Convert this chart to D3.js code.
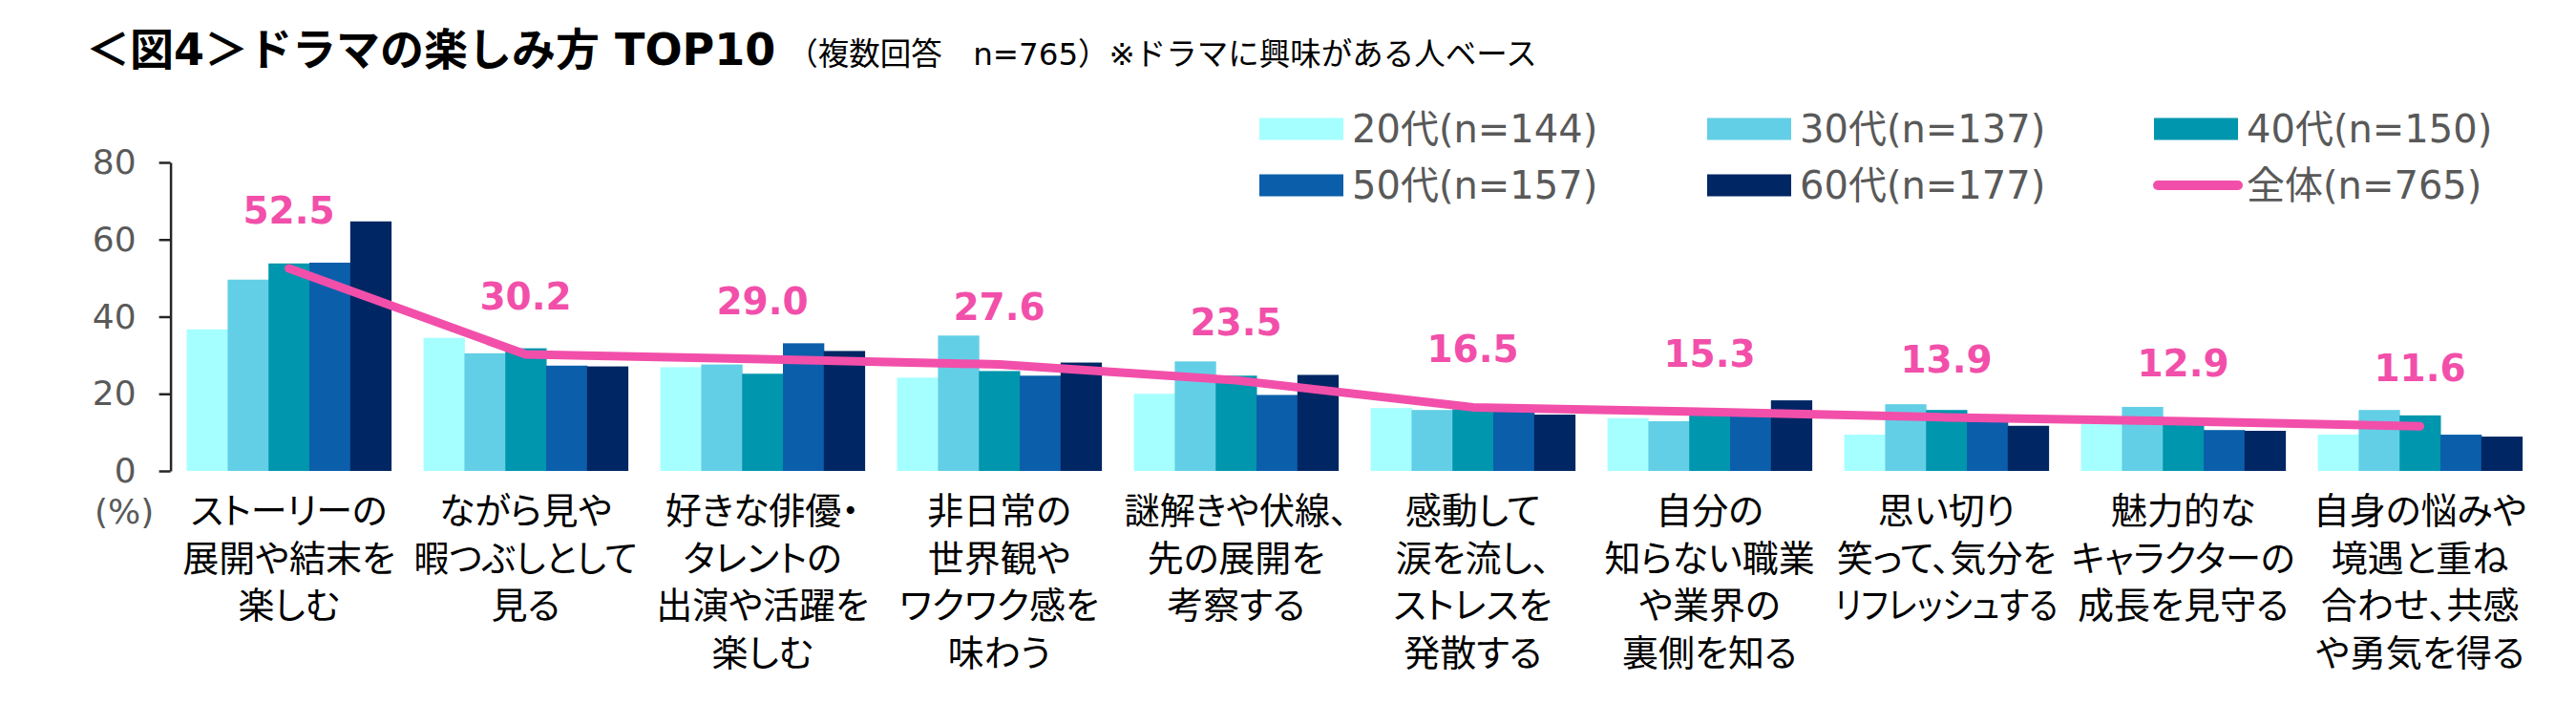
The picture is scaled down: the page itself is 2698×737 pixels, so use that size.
<!DOCTYPE html>
<html>
<head>
<meta charset="utf-8">
<script src="https://cdn.jsdelivr.net/npm/d3@7"></script>
<style>
  html, body { margin: 0; padding: 0; background: #fff; }
  svg text { font-family: "DejaVu Sans", "Noto Sans CJK JP", sans-serif; }
  .jp { font-family: "Noto Sans CJK JP", sans-serif; font-feature-settings: "palt"; }
</style>
</head>
<body>
<svg id="chart" width="2698" height="737"></svg>
<script>
// data
var categories = [
  ["ストーリーの", "展開や結末を", "楽しむ"],
  ["ながら見や", "暇つぶしとして", "見る"],
  ["好きな俳優・", "タレントの", "出演や活躍を", "楽しむ"],
  ["非日常の", "世界観や", "ワクワク感を", "味わう"],
  ["謎解きや伏線、", "先の展開を", "考察する"],
  ["感動して", "涙を流し、", "ストレスを", "発散する"],
  ["自分の", "知らない職業", "や業界の", "裏側を知る"],
  ["思い切り", "笑って、気分を", "リフレッシュする"],
  ["魅力的な", "キャラクターの", "成長を見守る"],
  ["自身の悩みや", "境遇と重ね", "合わせ、共感", "や勇気を得る"]
];
var seriesNames = ["20代(n=144)", "30代(n=137)", "40代(n=150)", "50代(n=157)", "60代(n=177)"];
var seriesColors = ["#A6FFFF", "#63CFE6", "#0096AD", "#0B5FAA", "#002663"];
var values20 = [36.7, 34.5, 26.9, 24.2, 20.0, 16.3, 13.7, 9.4, 12.2, 9.4];
var values30 = [49.6, 30.5, 27.6, 35.1, 28.4, 15.8, 12.9, 17.3, 16.6, 15.8];
var values40 = [53.8, 31.8, 25.2, 25.9, 24.7, 16.0, 14.8, 15.8, 12.0, 14.4];
var values50 = [54.0, 27.3, 33.1, 24.7, 19.7, 15.5, 15.0, 13.0, 10.6, 9.4];
var values60 = [64.7, 27.1, 31.1, 28.1, 24.9, 14.6, 18.3, 11.7, 10.4, 8.9];
var totalName = "全体(n=765)";
var totalValues = [52.5, 30.2, 29.0, 27.6, 23.5, 16.5, 15.3, 13.9, 12.9, 11.6];
var yTicks = [0, 20, 40, 60, 80];

var PINK = "#F24FAA";
var MAX_LABEL_W = 234;
var series = [values20, values30, values40, values50, values60];

var svg = d3.select("#chart");

// title
var title = svg.append("text")
  .attr("x", 90)
  .attr("y", 68);
title.append("tspan")
  .attr("font-size", 46)
  .attr("font-weight", "bold")
  .attr("fill", "#000")
  .text("＜図4＞ドラマの楽しみ方 TOP10");
title.append("tspan")
  .attr("dx", 12)
  .attr("font-size", 32.5)
  .attr("fill", "#000")
  .text("（複数回答　n=765）※ドラマに興味がある人ベース");

// scales
var idx = d3.range(categories.length);
var x0 = d3.scaleBand()
  .domain(idx)
  .range([178.6, 2658.6])
  .paddingInner(0.137)
  .paddingOuter(0.0685);
var x1 = d3.scaleBand()
  .domain(d3.range(series.length))
  .range([0, x0.bandwidth()]);
var y = d3.scaleLinear().domain([0, 80]).range([493, 170]);

// bars
var groups = svg.append("g").selectAll("g")
  .data(idx)
  .join("g")
  .attr("transform", function(d) { return "translate(" + x0(d) + ",0)"; });

groups.selectAll("rect")
  .data(function(d) { return series.map(function(s, k) { return {k: k, v: s[d]}; }); })
  .join("rect")
  .attr("x", function(d) { return x1(d.k); })
  .attr("width", x1.bandwidth() + 0.5)
  .attr("y", function(d) { return y(d.v); })
  .attr("height", function(d) { return y(0) - y(d.v); })
  .attr("fill", function(d) { return seriesColors[d.k]; });

// y axis
var yAxis = svg.append("g")
  .attr("transform", "translate(178.6,0)")
  .call(d3.axisLeft(y).tickValues(yTicks).tickSize(12).tickSizeOuter(0).tickPadding(24));
yAxis.select(".domain").attr("stroke", "#262626").attr("stroke-width", 2.5);
yAxis.selectAll(".tick line").attr("stroke", "#262626").attr("stroke-width", 2.5);
yAxis.selectAll(".tick text")
  .attr("font-size", 36)
  .attr("fill", "#595959")
  .attr("font-family", "DejaVu Sans");

svg.append("text")
  .attr("x", 99)
  .attr("y", 548)
  .attr("font-size", 36)
  .attr("fill", "#595959")
  .text("(%)");

// total line
var cx = function(i) { return x0(i) + x0.bandwidth() / 2; };
var line = d3.line()
  .x(function(d, i) { return cx(i); })
  .y(function(d) { return y(d); });

svg.append("path")
  .datum(totalValues)
  .attr("d", line)
  .attr("fill", "none")
  .attr("stroke", PINK)
  .attr("stroke-width", 9)
  .attr("stroke-linecap", "round")
  .attr("stroke-linejoin", "round");

svg.append("g").selectAll("text")
  .data(totalValues)
  .join("text")
  .attr("x", function(d, i) { return cx(i); })
  .attr("y", function(d) { return y(d) - 47; })
  .attr("text-anchor", "middle")
  .attr("font-size", 39)
  .attr("font-weight", "bold")
  .attr("fill", PINK)
  .text(function(d) { return d.toFixed(1); });

// category labels, one text per line
var labelData = [];
categories.forEach(function(lines, i) {
  lines.forEach(function(t, j) { labelData.push({t: t, i: i, j: j}); });
});
svg.append("g").selectAll("text")
  .data(labelData)
  .join("text")
  .attr("class", "jp")
  .attr("text-anchor", "middle")
  .attr("font-size", 38)
  .attr("fill", "#000")
  .attr("x", function(d) { return cx(d.i); })
  .attr("y", function(d) { return 548 + d.j * 49.5; })
  .text(function(d) { return d.t; })
  .each(function() {
    // squeeze the widest lines the way the narrow original font does
    if (this.getComputedTextLength() > MAX_LABEL_W) {
      d3.select(this)
        .attr("textLength", MAX_LABEL_W)
        .attr("lengthAdjust", "spacingAndGlyphs");
    }
  });

// legend
var legendCols = [1319, 1788, 2256];
var legendRows = [135, 194];
var legendItems = seriesNames.map(function(n, k) { return {name: n, color: seriesColors[k], type: "bar"}; });
legendItems.push({name: totalName, color: PINK, type: "line"});

var leg = svg.append("g").selectAll("g")
  .data(legendItems)
  .join("g")
  .attr("transform", function(d, i) {
    return "translate(" + legendCols[i % 3] + "," + legendRows[Math.floor(i / 3)] + ")";
  });

leg.filter(function(d) { return d.type == "bar"; })
  .append("rect")
  .attr("x", 0)
  .attr("y", -11.5)
  .attr("width", 88)
  .attr("height", 23)
  .attr("fill", function(d) { return d.color; });

leg.filter(function(d) { return d.type == "line"; })
  .append("line")
  .attr("x1", 4).attr("x2", 88)
  .attr("y1", 0).attr("y2", 0)
  .attr("stroke", PINK)
  .attr("stroke-width", 10)
  .attr("stroke-linecap", "round");

leg.append("text")
  .attr("x", 97)
  .attr("y", 14)
  .attr("font-size", 40)
  .attr("fill", "#595959")
  .text(function(d) { return d.name; });
</script>
</body>
</html>
